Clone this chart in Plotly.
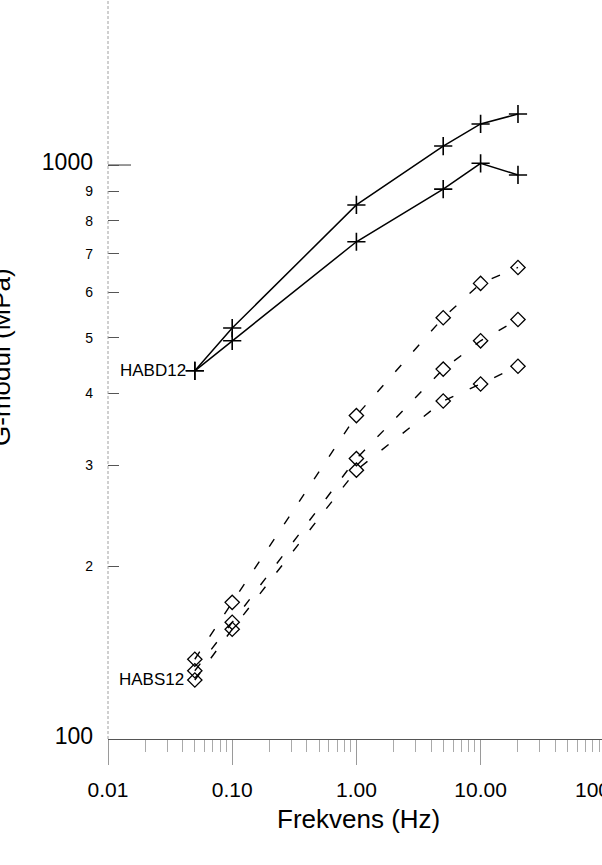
import plotly.graph_objects as go

# ---- data ----
freq = [0.05, 0.1, 1, 5, 10, 20]

habd12_a = [438, 520, 852, 1079, 1179, 1227]
habd12_b = [438, 494, 735, 908, 1007, 961]

habs12_a = [137.7, 173, 366, 542, 622, 663]
habs12_b = [131.5, 159.7, 308, 441, 494, 538]
habs12_c = [126.7, 155.3, 294, 388, 415.5, 446]

x_tickvals = [0.01, 0.1, 1, 10]
x_ticktext = ["0.01", "0.10", "1.00", "10.00"]
x_minor = [k * 10 ** n for n in (-2, -1, 0, 1) for k in range(2, 10)]

y_tickvals = [100, 200, 300, 400, 500, 600, 700, 800, 900, 1000]
y_ticktext = ['<span style="font-size:23px">100</span>', "2", "3", "4", "5",
              "6", "7", "8", "9", '<span style="font-size:23px">1000</span>']

FONT = "Liberation Sans, Arial, sans-serif"

fig = go.Figure()

for ys in (habd12_a, habd12_b):
    fig.add_trace(go.Scatter(
        x=freq, y=ys, mode="lines+markers",
        line=dict(color="black", width=1.5),
        marker=dict(symbol="cross-thin", size=13, color="black",
                    line=dict(color="black", width=1.6)),
        showlegend=False, hoverinfo="skip"))

for ys in (habs12_a, habs12_b, habs12_c):
    fig.add_trace(go.Scatter(
        x=freq, y=ys, mode="lines+markers",
        line=dict(color="black", width=1.4, dash="9px,18px"),
        marker=dict(symbol="diamond-open", size=11, color="black",
                    line=dict(color="black", width=1.3)),
        showlegend=False, hoverinfo="skip"))

L, R, T, B = 108, 0, 0, 126
W, H = 602, 865
pw = W - L - R
ph = H - T - B

fig.update_layout(
    width=W, height=H,
    margin=dict(l=L, r=R, t=T, b=B, pad=0),
    paper_bgcolor="white", plot_bgcolor="white",
    font=dict(family=FONT, color="black"),
    xaxis=dict(
        type="log", range=[-2, 1.9775],
        tickmode="array", tickvals=x_tickvals, ticktext=x_ticktext,
        ticks="outside", ticklen=25, tickwidth=1, tickcolor="#9a9a9a",
        tickfont=dict(size=21, family=FONT, color="black"),
        ticklabelstandoff=7,
        minor=dict(tickmode="array", tickvals=x_minor, ticks="outside",
                   ticklen=12, tickwidth=1, tickcolor="#aaaaaa"),
        showline=True, linecolor="#555555", linewidth=1.3,
        showgrid=False, zeroline=False),
    yaxis=dict(
        type="log", range=[2, 3.2875],
        tickmode="array", tickvals=y_tickvals, ticktext=y_ticktext,
        ticks="inside", ticklen=11, tickwidth=1.2, tickcolor="#555555",
        tickfont=dict(size=14, family=FONT, color="black"),
        ticklabelstandoff=14,
        showline=False, showgrid=False, zeroline=False),
)

# dashed-looking y axis line
fig.add_shape(type="line", xref="paper", yref="paper", x0=0, x1=0, y0=0, y1=1,
              line=dict(color="#a0a0a0", width=1, dash="3px,2px"))
# longer tick at 1000
fig.add_shape(type="line", xref="paper", yref="y", x0=0, x1=23 / pw, y0=1000, y1=1000,
              line=dict(color="#555555", width=1.2))

# cut-off tick label at 100
fig.add_annotation(text="100.00", xref="paper", yref="paper",
                   x=(607 - L) / pw, y=-(789.5 - ph) / ph, xanchor="center",
                   yanchor="middle", showarrow=False,
                   font=dict(size=21, family=FONT, color="black"))

# axis titles
fig.add_annotation(text="Frekvens (Hz)", xref="paper", yref="paper",
                   x=(358 - L) / pw, y=-(819 - ph) / ph, xanchor="center",
                   yanchor="middle", showarrow=False,
                   font=dict(size=26, family=FONT, color="black"))
fig.add_annotation(text="G-modul (MPa)", xref="paper", yref="paper",
                   x=(18 - L) / pw, y=1 - 357 / ph, xanchor="right",
                   yanchor="middle", textangle=-90, showarrow=False,
                   font=dict(size=26, family=FONT, color="black"))

# series labels
fig.add_annotation(text="HABD12", x=-1.30103, y=2.6415, xref="x", yref="y",
                   xanchor="right", yanchor="middle", xshift=-7, showarrow=False,
                   font=dict(size=17, family=FONT, color="black"))
fig.add_annotation(text="HABS12", x=-1.30103, y=2.1028, xref="x", yref="y",
                   xanchor="right", yanchor="middle", xshift=-9, showarrow=False,
                   font=dict(size=17, family=FONT, color="black"))

fig.write_html("out.html", config={"displayModeBar": False},
               post_script="document.body.style.margin='0';document.body.style.overflow='hidden';")
